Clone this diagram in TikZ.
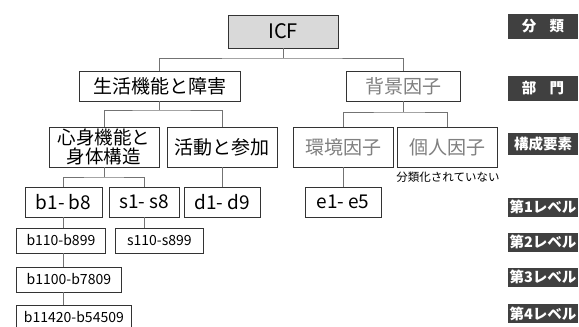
\documentclass[tikz,border=0pt]{standalone}
\usepackage{fontspec}
\setmainfont{Noto Sans CJK JP}
\usetikzlibrary{positioning}
\usetikzlibrary{calc}
\begin{document}
\begin{tikzpicture}[x=1pt,y=-1pt,align=center,
		cnode/.style={rectangle,draw=black!80,fill=white,line width=0.8pt,inner sep=0pt,text=black,font=\fontsize{19}{19}\selectfont},
		gnode/.style={cnode,text=black!50},
		snode/.style={cnode,anchor=west,minimum height=25pt,font=\fontsize{14}{14}\selectfont},
		lnode/.style={rectangle,fill=black!75,text=white,inner sep=0pt,minimum width=70pt,font=\bfseries\fontsize{14.5}{14.5}\selectfont},
		conn/.style={draw=black!55,line width=0.8pt}]
		\useasboundingbox (0,0) rectangle (579,327);
		% tree
		\node[cnode,fill=black!15,minimum width=110pt,minimum height=33pt,font=\fontsize{20}{20}\selectfont] (icf) at (283,31.5) {ICF};
		\node[cnode,minimum width=161pt,minimum height=30pt] (seikatsu) at (159.5,86) {生活機能と障害};
		\node[gnode,minimum width=114pt,minimum height=30pt] (haikei) at (403,86) {背景因子};
		\node[cnode,minimum width=110pt,minimum height=40pt,font=\fontsize{18.5}{15.5}\selectfont] (shinshin) at (104,147) {心身機能と\\身体構造};
		\node[cnode,minimum width=110pt,minimum height=40pt] (katsudo) at (222,147) {活動と参加};
		\node[gnode,minimum width=100pt,minimum height=40pt] (kankyo) at (343,147) {環境因子};
		\node[gnode,minimum width=100pt,minimum height=40pt] (kojin) at (447,147) {個人因子};
		\node[font=\fontsize{11.5}{11.5}\selectfont,inner sep=0pt] (mibunrui) at (448,177) {分類化されていない};
		% levels
		\node[cnode,minimum width=77pt,minimum height=30pt] (b1) at (63.5,202) {b1- b8};
		\node[cnode,minimum width=70pt,minimum height=30pt] (s1) at (144,202) {s1- s8};
		\node[cnode,minimum width=76pt,minimum height=30pt] (d1) at (222,202) {d1- d9};
		\node[cnode,minimum width=76pt,minimum height=30pt] (e1) at (343,202) {e1- e5};
		\node[snode,minimum width=89pt] (b2) at (16,240.5) {b110-b899};
		\node[snode,minimum width=88pt] (s2) at (115,240.5) {s110-s899};
		\node[snode,minimum width=105pt] (b3) at (16,279.5) {b1100-b7809};
		\node[snode,minimum width=115pt] (b4) at (16,317.5) {b11420-b54509};
		% labels
		\node[lnode,minimum height=25pt] (lbunrui) at (543,26.5) {分\hspace{0.9em}類};
		\node[lnode,minimum height=25pt] (lbumon) at (543,88.5) {部\hspace{0.9em}門};
		\node[lnode,minimum height=22pt] (lyoso) at (543,144) {構成要素};
		\node[lnode,minimum height=19pt] (lv1) at (543,207) {第1レベル};
		\node[lnode,minimum height=19pt] (lv2) at (543,242) {第2レベル};
		\node[lnode,minimum height=19pt] (lv3) at (543,277) {第3レベル};
		\node[lnode,minimum height=19pt] (lv4) at (543,313.5) {第4レベル};
		% connectors
		\coordinate (j0) at (283,58);
		\coordinate (j1) at (159.5,110);
		\coordinate (j2) at (403,112);
		\coordinate (j3) at (104,177);
		\draw[conn] (icf) -- (j0);
		\draw[conn] (seikatsu.north) |- (j0) -| (haikei.north);
		\draw[conn] (seikatsu) -- (j1);
		\draw[conn] (shinshin.north) |- (j1) -| (katsudo.north);
		\draw[conn] (haikei) -- (j2);
		\draw[conn] (kankyo.north) |- (j2) -| (kojin.north);
		\draw[conn] (shinshin) -- (j3);
		\draw[conn] (b1.north) |- (j3) -| (s1.north);
		\draw[conn] (katsudo) -- (d1);
		\draw[conn] (kankyo) -- (e1);
		\draw[conn] (b1.south) -- (b1.south |- b2.north);
		\draw[conn] (s1.south) -- (s1.south |- s2.north);
		\draw[conn] (b1.south |- b2.south) -- (b1.south |- b3.north);
		\draw[conn] (b1.south |- b3.south) -- (b1.south |- b4.north);
	\end{tikzpicture}
\end{document}
